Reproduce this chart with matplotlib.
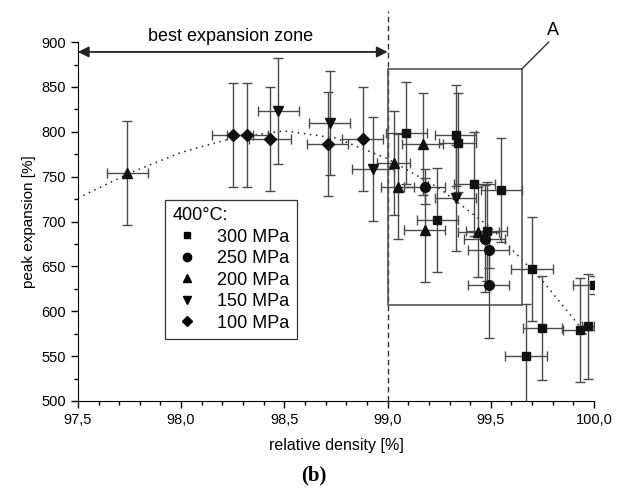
import numpy as np
import matplotlib
matplotlib.use("Agg")
import matplotlib.pyplot as plt
from matplotlib.lines import Line2D
from matplotlib.patches import Rectangle
from matplotlib.ticker import MultipleLocator, FuncFormatter

plt.rcParams['font.family'] = ['Liberation Sans', 'DejaVu Sans']

# 300 MPa (squares)
sq_x = [99.09, 99.33, 99.34, 99.42, 99.55, 99.24, 99.48, 99.70, 100.0, 99.75, 99.67, 99.93, 99.97]
sq_y = [799, 796, 788, 742, 735, 702, 689, 647, 629, 581, 550, 579, 583]
sq_xe = [0.10, 0.10, 0.09, 0.10, 0.10, 0.10, 0.10, 0.10, 0.10, 0.095, 0.10, 0.08, 0.03]
sq_ye = [57, 56, 55, 58, 58, 58, 55, 58, 10, 58, 58, 58, 58]

# 250 MPa (circles)
ci_x = [99.18, 99.47, 99.49, 99.49]
ci_y = [739, 681, 668, 629]
ci_xe = [0.10, 0.10, 0.10, 0.10]
ci_ye = [20, 60, 20, 59]

# 200 MPa (triangles up)
tu_x = [97.74, 99.03, 99.05, 99.17, 99.18, 99.44]
tu_y = [754, 765, 739, 786, 691, 688]
tu_xe = [0.10, 0.08, 0.08, 0.10, 0.10, 0.10]
tu_ye = [58, 58, 58, 57, 58, 50]

# 150 MPa (triangles down)
td_x = [98.47, 98.72, 98.93, 99.33]
td_y = [823, 810, 759, 726]
td_xe = [0.10, 0.10, 0.10, 0.10]
td_ye = [59, 58, 58, 59]

# 100 MPa (diamonds)
di_x = [98.25, 98.32, 98.43, 98.71, 98.88]
di_y = [796, 796, 792, 786, 792]
di_xe = [0.10, 0.10, 0.10, 0.10, 0.10]
di_ye = [58, 58, 58, 58, 58]

# dotted trend curve
fit_x = [97.5, 97.75, 98.0, 98.25, 98.5, 98.75, 99.0, 99.25, 99.5, 99.75, 99.97]
fit_y = [726, 754, 777, 793, 801, 793, 770, 737, 693, 634, 572]

series = [
    (sq_x, sq_y, sq_xe, sq_ye, 's', 6, '300 MPa'),
    (ci_x, ci_y, ci_xe, ci_ye, 'o', 7, '250 MPa'),
    (tu_x, tu_y, tu_xe, tu_ye, '^', 7, '200 MPa'),
    (td_x, td_y, td_xe, td_ye, 'v', 7, '150 MPa'),
    (di_x, di_y, di_xe, di_ye, 'D', 6, '100 MPa'),
]

fig = plt.figure(figsize=(6.28, 4.95), dpi=100)
ax = fig.add_axes([0.124, 0.190, 0.822, 0.725])

ax.plot(fit_x, fit_y, color='#222222', linestyle=(0, (1, 3)), linewidth=1.1, zorder=1)

for xs, ys, xe, ye, mk, ms, lab in series:
    ax.errorbar(xs, ys, xerr=xe, yerr=ye, fmt=mk, markersize=ms, color='#111111',
                ecolor='#4a4a4a', elinewidth=1.0, capsize=3.5, capthick=1.0, zorder=3)

ax.set_xlim(97.5, 100.0)
ax.set_ylim(500, 900)
ax.spines['top'].set_visible(False)
ax.spines['right'].set_visible(False)
ax.xaxis.set_major_locator(MultipleLocator(0.5))
ax.xaxis.set_minor_locator(MultipleLocator(0.1))
ax.yaxis.set_major_locator(MultipleLocator(50))
ax.yaxis.set_minor_locator(MultipleLocator(25))
ax.xaxis.set_major_formatter(FuncFormatter(lambda v, p: f"{v:.1f}".replace('.', ',')))
ax.tick_params(which='major', direction='out', length=5, width=1, labelsize=10.5)
ax.tick_params(which='minor', direction='out', length=3, width=1)
ax.set_xlabel('relative density [%]', fontsize=11.5, labelpad=8)
ax.set_ylabel('peak expansion [%]', fontsize=11, labelpad=4)

# vertical dashed line at 99 %
ax.plot([99.0, 99.0], [500, 935], color='#333333', linestyle=(0, (4, 2.5)),
        linewidth=1, clip_on=False, zorder=2)

# best expansion zone arrow
ax.annotate('', xy=(97.5, 889), xytext=(99.0, 889),
            arrowprops=dict(arrowstyle='<|-|>', color='#222222', lw=1.3,
                            mutation_scale=16, shrinkA=0, shrinkB=0),
            annotation_clip=False)
ax.text(98.24, 906, 'best expansion zone', ha='center', va='center', fontsize=13)

# box A
ax.add_patch(Rectangle((99.0, 607), 0.65, 263, fill=False, edgecolor='#555555',
                       linewidth=1.2, zorder=2))
ax.plot([99.65, 99.78], [870, 900], color='#333333', linewidth=1, clip_on=False)
ax.text(99.80, 903, 'A', ha='center', va='bottom', fontsize=13)

handles = [Line2D([0], [0], marker=mk, linestyle='none', color='black',
                  markersize=ms - 1, label=lab)
           for _, _, _, _, mk, ms, lab in series]
leg = ax.legend(handles=handles, title='400°C:', loc='upper left',
                bbox_to_anchor=(0.169, 0.56), borderaxespad=0, frameon=True,
                fancybox=False, edgecolor='black', fontsize=13, title_fontsize=13,
                handletextpad=0.9, handlelength=1.6, labelspacing=0.25,
                borderpad=0.4, alignment='left')
leg.get_frame().set_linewidth(0.9)

fig.text(0.5, 0.04, '(b)', ha='center', va='center', fontsize=15,
         fontweight='bold', family=['Liberation Serif', 'DejaVu Serif'])

fig.savefig('out.png', dpi=100)
